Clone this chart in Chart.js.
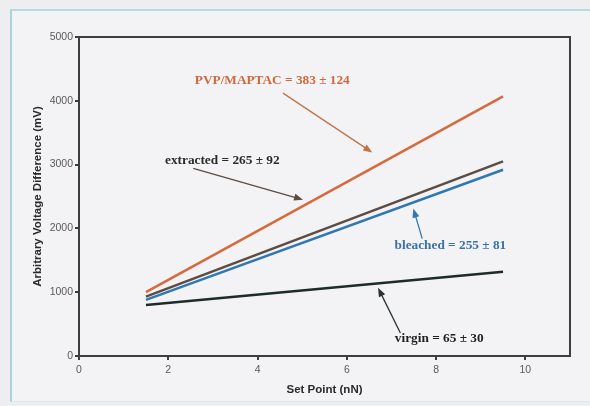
<!DOCTYPE html>
<html>
<head>
<meta charset="utf-8">
<script src="https://cdn.jsdelivr.net/npm/chart.js@4.4.1/dist/chart.umd.min.js"></script>
<style>
  html, body { margin: 0; padding: 0; background: #eeeef0; }
  #wrap { position: relative; width: 590px; height: 406px; overflow: hidden; }
  #frame { position: absolute; left: 10px; top: 9px; width: 620px; height: 390px;
           border-left: 2px solid #a7d6d9; border-top: 2px solid #b3dcdf; border-bottom: 1px solid #d8e6e8;
           background: #f3f3f5; }
  canvas { position: absolute; left: 0; top: 0; }
</style>
</head>
<body>
<div id="wrap">
  <div id="frame"></div>
  <canvas id="chart" width="590" height="406"></canvas>
</div>
<script>
// data
var setPoints = [1.5, 9.5];
var pvpMaptac = [1000, 4070];
var extracted = [930, 3050];
var bleached = [880, 2920];
var virgin = [800, 1320];

var xTicks = [0, 2, 4, 6, 8, 10];
var yTicks = [0, 1000, 2000, 3000, 4000, 5000];

var seriesNames = ['PVP/MAPTAC', 'extracted', 'bleached', 'virgin'];
var seriesColors = ['#d8693c', '#5b4d44', '#2f78b2', '#1d2b29'];

// label text, label position and arrow (from -> to), in data units
var labels = [
    { text: 'PVP/MAPTAC = 383 ± 124', color: '#d06a3e', x: 4.33, y: 4320, from: [4.57, 4120], to: [6.57, 3190] },
    { text: 'extracted = 265 ± 92', color: '#2b2b2b', x: 3.21, y: 3066, from: [2.56, 2940], to: [5.02, 2450] },
    { text: 'bleached = 255 ± 81', color: '#3a72a8', x: 8.32, y: 1730, from: [7.69, 1840], to: [7.49, 2310] },
    { text: 'virgin = 65 ± 30', color: '#1f1f1f', x: 8.07, y: 267, from: [7.20, 360], to: [6.70, 1070] }
];
var arrowColors = ['#c2724a', '#5b4d44', '#2f78b2', '#2a3332'];

function toPoints(ys) {
    return setPoints.map(function (x, i) { return { x: x, y: ys[i] }; });
}

var allSeries = [pvpMaptac, extracted, bleached, virgin];

var annotate = {
    id: 'annotate',
    afterDatasetsDraw: function (chart) {
        var c = chart.ctx, xs = chart.scales.x, ys = chart.scales.y, a = chart.chartArea;
        c.save();
        // box around plot
        c.strokeStyle = '#3b3f3f';
        c.lineWidth = 2;
        c.beginPath();
        c.moveTo(a.left, a.top);
        c.lineTo(a.right, a.top);
        c.lineTo(a.right, a.bottom);
        c.stroke();

        labels.forEach(function (l, i) {
            var x1 = xs.getPixelForValue(l.from[0]), y1 = ys.getPixelForValue(l.from[1]);
            var x2 = xs.getPixelForValue(l.to[0]), y2 = ys.getPixelForValue(l.to[1]);
            var ang = Math.atan2(y2 - y1, x2 - x1);
            c.strokeStyle = arrowColors[i];
            c.fillStyle = arrowColors[i];
            c.lineWidth = 1.3;
            c.beginPath();
            c.moveTo(x1, y1);
            c.lineTo(x2 - 6 * Math.cos(ang), y2 - 6 * Math.sin(ang));
            c.stroke();
            c.beginPath();
            c.moveTo(x2, y2);
            c.lineTo(x2 - 9 * Math.cos(ang) + 3.5 * Math.sin(ang), y2 - 9 * Math.sin(ang) - 3.5 * Math.cos(ang));
            c.lineTo(x2 - 9 * Math.cos(ang) - 3.5 * Math.sin(ang), y2 - 9 * Math.sin(ang) + 3.5 * Math.cos(ang));
            c.closePath();
            c.fill();

            c.font = 'bold 13.3px "Liberation Serif", serif';
            c.fillStyle = l.color;
            c.textAlign = 'center';
            c.textBaseline = 'middle';
            c.fillText(l.text, xs.getPixelForValue(l.x), ys.getPixelForValue(l.y));
        });
        c.restore();
    }
};

var ctx = document.getElementById('chart').getContext('2d');
var chart = new Chart(ctx, {
    type: 'line',
    data: {
        datasets: allSeries.map(function (s, i) {
            return {
                label: seriesNames[i],
                data: toPoints(s),
                borderColor: seriesColors[i],
                borderWidth: 2.5,
                pointRadius: 0,
                fill: false
            };
        })
    },
    options: {
        responsive: false,
        animation: false,
        layout: { padding: { left: 0, top: 37, right: 20, bottom: 0 } },
        plugins: {
            legend: { display: false },
            tooltip: { enabled: false }
        },
        scales: {
            x: {
                type: 'linear',
                min: 0,
                max: 11,
                afterBuildTicks: function (scale) {
                    scale.ticks = xTicks.map(function (v) { return { value: v }; });
                },
                afterFit: function (scale) { scale.height = 50; },
                grid: { drawOnChartArea: false, tickLength: 4, color: '#3b3f3f', lineWidth: 2 },
                border: { color: '#3b3f3f', width: 2 },
                ticks: {
                    color: '#5a5a5a',
                    font: { family: '"Liberation Sans", Arial', size: 10.5 },
                    padding: 4,
                    callback: function (v) { return String(v); }
                },
                title: {
                    display: true,
                    text: 'Set Point (nN)',
                    color: '#2a2a2a',
                    font: { family: '"Liberation Sans", Arial', size: 11.5, weight: 'bold' },
                    padding: { top: 0, bottom: 9 }
                }
            },
            y: {
                min: 0,
                max: 5000,
                afterBuildTicks: function (scale) {
                    scale.ticks = yTicks.map(function (v) { return { value: v }; });
                },
                afterFit: function (scale) { scale.width = 79; },
                grid: { drawOnChartArea: false, tickLength: 4, color: '#3b3f3f', lineWidth: 2 },
                border: { color: '#3b3f3f', width: 2 },
                ticks: {
                    color: '#5a5a5a',
                    font: { family: '"Liberation Sans", Arial', size: 10.5 },
                    padding: 2,
                    callback: function (v) { return String(v); }
                },
                title: {
                    display: true,
                    text: 'Arbitrary Voltage Difference (mV)',
                    color: '#2a2a2a',
                    font: { family: '"Liberation Sans", Arial', size: 11.5, weight: 'bold' },
                    padding: { top: 31, bottom: 0 }
                }
            }
        }
    },
    plugins: [annotate]
});
</script>
</body>
</html>
